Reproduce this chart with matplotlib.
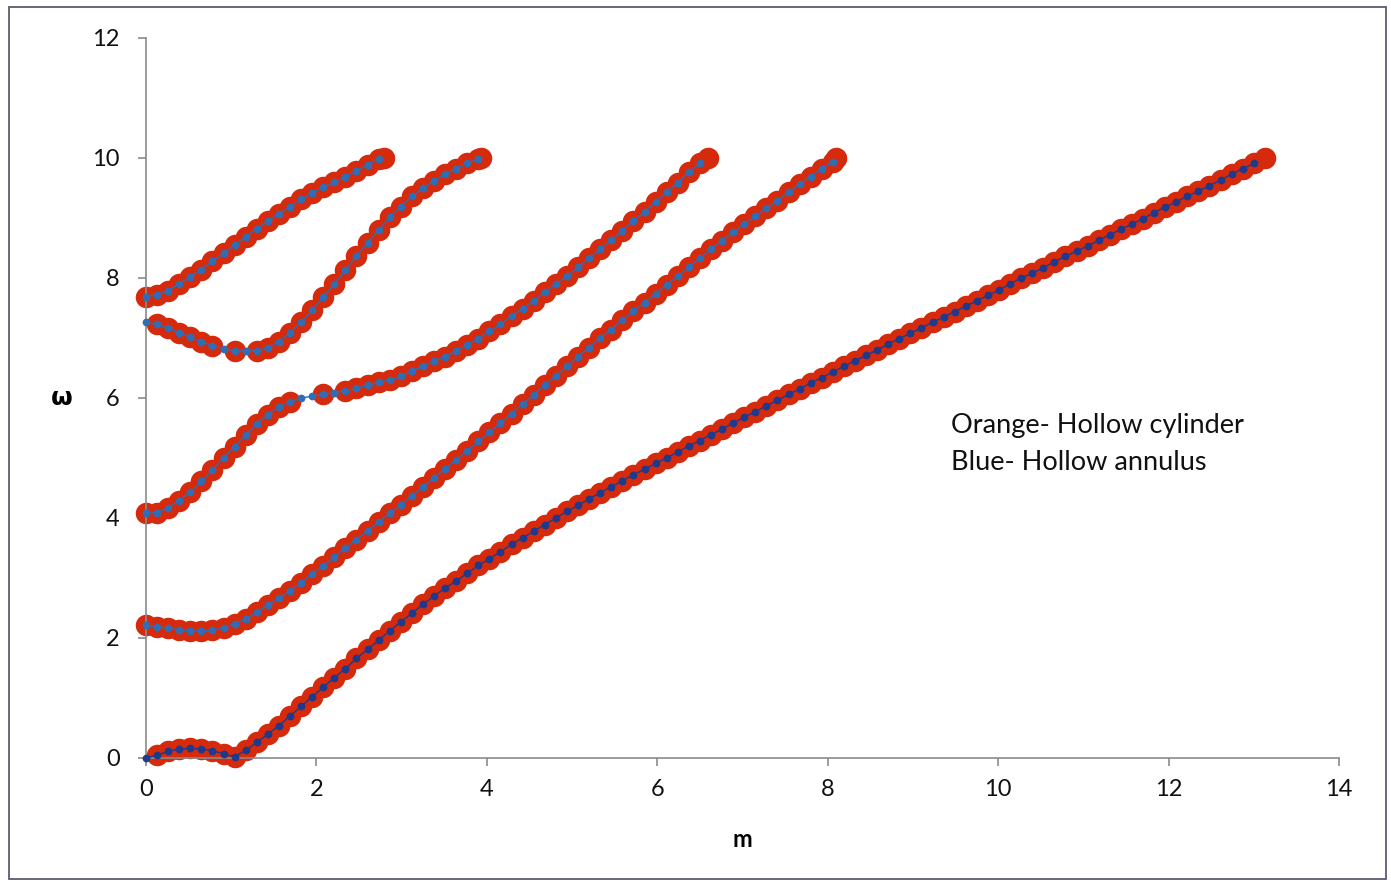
import numpy as np
import matplotlib
matplotlib.use("Agg")
import matplotlib.pyplot as plt
from matplotlib.patches import Rectangle

# ---- data: omega values at uniform m steps (m = M_STEP * index) ----
M_STEP = 0.13

branch_a = [7.69, 7.72, 7.79, 7.90, 8.02, 8.14, 8.28, 8.41, 8.55, 8.69, 8.82,
            8.95, 9.07, 9.19, 9.31, 9.42, 9.51, 9.60, 9.69, 9.79, 9.89, 9.98]

branch_b = [7.26, 7.23, 7.16, 7.09, 7.01, 6.94, 6.87, 6.82, 6.79, 6.78, 6.79,
            6.84, 6.94, 7.08, 7.26, 7.46, 7.68, 7.90, 8.13, 8.37, 8.58, 8.80,
            9.01, 9.19, 9.36, 9.50, 9.62, 9.73, 9.82, 9.91, 9.99]

branch_c = [4.08, 4.09, 4.17, 4.29, 4.43, 4.61, 4.80, 5.00, 5.19, 5.38,
            5.57, 5.72, 5.85, 5.94, 6.00, 6.03, 6.06, 6.09, 6.12, 6.16,
            6.21, 6.26, 6.30, 6.36, 6.45, 6.53, 6.61, 6.69, 6.78, 6.89,
            6.99, 7.11, 7.23, 7.37, 7.49, 7.62, 7.76, 7.90, 8.03, 8.18,
            8.33, 8.48, 8.63, 8.79, 8.95, 9.10, 9.27, 9.43, 9.59, 9.76,
            9.91]

branch_d = [2.21, 2.19, 2.16, 2.14, 2.12, 2.12, 2.13, 2.17, 2.24, 2.32,
            2.43, 2.55, 2.66, 2.79, 2.92, 3.07, 3.20, 3.35, 3.50, 3.64,
            3.79, 3.93, 4.08, 4.22, 4.37, 4.52, 4.67, 4.82, 4.97, 5.12,
            5.28, 5.43, 5.58, 5.74, 5.90, 6.05, 6.22, 6.37, 6.53, 6.69,
            6.84, 7.00, 7.14, 7.30, 7.45, 7.59, 7.74, 7.89, 8.03, 8.18,
            8.33, 8.48, 8.62, 8.76, 8.90, 9.03, 9.16, 9.29, 9.43, 9.56,
            9.69, 9.82, 9.94]

branch_e = [0.00, 0.05, 0.11, 0.15, 0.16, 0.15, 0.12, 0.07, 0.02, 0.13,
            0.26, 0.40, 0.54, 0.70, 0.86, 1.02, 1.18, 1.34, 1.49, 1.66,
            1.81, 1.96, 2.12, 2.27, 2.41, 2.56, 2.70, 2.83, 2.95, 3.08,
            3.21, 3.32, 3.44, 3.56, 3.67, 3.78, 3.89, 4.00, 4.11, 4.21,
            4.32, 4.42, 4.52, 4.62, 4.72, 4.81, 4.91, 5.00, 5.10, 5.20,
            5.29, 5.39, 5.48, 5.58, 5.68, 5.77, 5.87, 5.96, 6.06, 6.15,
            6.25, 6.34, 6.43, 6.53, 6.62, 6.71, 6.80, 6.90, 6.99, 7.08,
            7.17, 7.26, 7.35, 7.44, 7.53, 7.62, 7.71, 7.80, 7.90, 8.00,
            8.08, 8.17, 8.27, 8.36, 8.45, 8.53, 8.63, 8.72, 8.81, 8.90,
            8.99, 9.09, 9.18, 9.27, 9.36, 9.45, 9.54, 9.63, 9.73, 9.82,
            9.91]

branches = [branch_a, branch_b, branch_c, branch_d, branch_e]

# end points of the hollow-cylinder (orange) branches at omega = 10
cyl_end_m = [2.79, 3.93, 6.60, 8.10, 13.13]
cyl_end_w = [10.0, 10.0, 10.0, 10.0, 10.0]

# indices where the cylinder curve has no marker (gaps on flat parts)
cyl_skip = [[], [0, 7, 9], [14, 15, 17], [], [0]]

annulus_colors = ["#2f6db5", "#2f6db5", "#2f6db5", "#2f6db5", "#1d3a8c"]

x_ticks = [0, 2, 4, 6, 8, 10, 12, 14]
y_ticks = [0, 2, 4, 6, 8, 10, 12]

RED = "#d52a0b"
FONT = "Lato"

fig = plt.figure(figsize=(13.91, 8.82), dpi=100)
fig.patch.set_facecolor("white")
ax = fig.add_axes([146 / 1391, 1 - 758 / 882, (1339 - 146) / 1391, (758 - 38) / 882])

# orange (hollow cylinder) markers
for i, w in enumerate(branches):
    m = M_STEP * np.arange(len(w))
    keep = [j for j in range(len(w)) if j not in cyl_skip[i]]
    mm = list(m[keep]) + [cyl_end_m[i]]
    ww = [w[j] for j in keep] + [cyl_end_w[i]]
    ax.plot(mm, ww, linestyle="none", marker="o", markersize=15.5,
            markerfacecolor=RED, markeredgecolor=RED, markeredgewidth=0,
            clip_on=False, zorder=2)

# blue (hollow annulus) markers
for i, w in enumerate(branches):
    m = M_STEP * np.arange(len(w))
    ax.plot(m, w, linestyle="-", linewidth=1.0, color=annulus_colors[i],
            marker="o", markersize=5.6, markerfacecolor=annulus_colors[i],
            markeredgewidth=0, clip_on=False, zorder=3)

ax.set_xlim(0, 14)
ax.set_ylim(0, 12)
ax.set_xticks(x_ticks)
ax.set_yticks(y_ticks)
ax.set_xticklabels([str(v) for v in x_ticks], fontsize=17, family=FONT)
ax.set_yticklabels([str(v) for v in y_ticks], fontsize=17, family=FONT)
for s in ["top", "right"]:
    ax.spines[s].set_visible(False)
for s in ["left", "bottom"]:
    ax.spines[s].set_color("#8a8a8a")
    ax.spines[s].set_linewidth(1.2)
ax.tick_params(axis="both", direction="out", length=6, width=1.2,
               color="#8a8a8a", labelcolor="#111111")
ax.tick_params(axis="x", pad=9)
ax.tick_params(axis="y", pad=13)

ax.set_xlabel("m", fontsize=17, fontweight="bold", family=FONT, labelpad=20)
ax.set_ylabel("ω", fontsize=18, fontweight="bold", rotation=0,
              family=["DejaVu Sans"], labelpad=22, va="center")

fig.text(951 / 1391, 1 - 425 / 882, "Orange- Hollow cylinder",
         fontsize=19.5, family=FONT, va="center", ha="left", color="#111111")
fig.text(951 / 1391, 1 - 463 / 882, "Blue- Hollow annulus",
         fontsize=19.5, family=FONT, va="center", ha="left", color="#111111")

# outer frame
fig.patches.append(Rectangle((9 / 1391, 1 - 879 / 882), (1386 - 9) / 1391,
                             (879 - 7) / 882, transform=fig.transFigure,
                             fill=False, edgecolor="#5d5a6e", linewidth=1.3))

fig.savefig("out.png", dpi=100, facecolor="white")
